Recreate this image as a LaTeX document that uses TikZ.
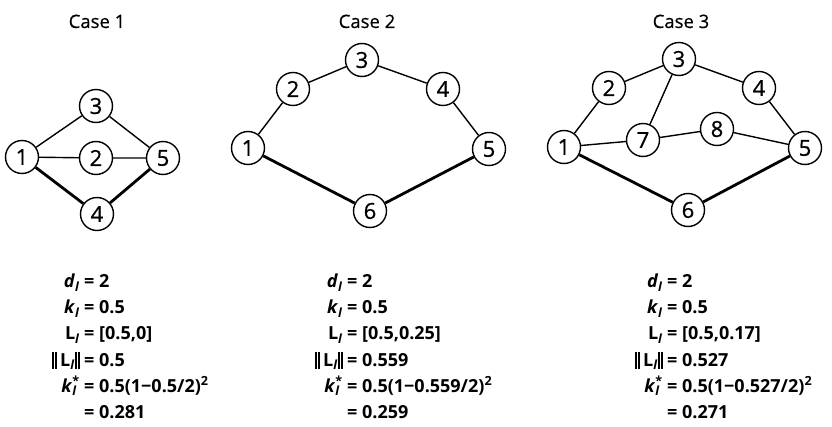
\documentclass[tikz,border=0pt]{standalone}
\usepackage{fontspec}
\setmainfont{Open Sans}
\newfontfamily\nodefont[FakeBold=0.8]{Open Sans}
\newfontfamily\titlefont[FakeBold=0.5]{Open Sans}
\newcommand{\dbar}{\rule[-2.5pt]{1.8pt}{16pt}\kern1.2pt\rule[-2.5pt]{1.8pt}{16pt}}
\newcommand{\lab}[1]{\textit{#1}\textsubscript{\textit{l}}}
\newcommand{\kstar}{\textit{k}\rlap{\textsubscript{\textit{l}}}\textsuperscript{*}}
\newcommand{\myrow}[5]{%
  \node[eqtxt,anchor=base east] (#1l) at (#2-4,#3) {#4};
  \node[eqtxt,anchor=base west] (#1r) at (#2,#3) {= #5};}
\begin{document}
\begin{tikzpicture}[x=1pt,y=-1pt,
  nd/.style={circle,draw,line width=1.4pt,minimum size=33pt,inner sep=0pt,font=\nodefont\fontsize{22}{22}\selectfont},
  edgethin/.style={line width=1.4pt},
  edgethick/.style={line width=2.8pt},
  ttl/.style={anchor=base,inner sep=0pt,font=\titlefont\fontsize{18.5}{18.5}\selectfont},
  eqtxt/.style={inner sep=0pt,font=\bfseries\fontsize{18}{20}\selectfont}]
\useasboundingbox (0,0) rectangle (832,427);
% titles
\node[ttl] (t1) at (97,28) {Case 1};
\node[ttl] (t2) at (367,28) {Case 2};
\node[ttl] (t3) at (681,28) {Case 3};
% case 1
\node[nd] (a1) at (22,157) {1};
\node[nd] (a2) at (96,158) {2};
\node[nd] (a3) at (96,106) {3};
\node[nd] (a4) at (97,214) {4};
\node[nd] (a5) at (163,158) {5};
\draw[edgethin] (a1) -- (a3) (a3) -- (a5) (a1) -- (a2) (a2) -- (a5);
\draw[edgethick] (a1) -- (a4) (a4) -- (a5);
% case 2
\node[nd] (b1) at (248,148) {1};
\node[nd] (b2) at (293,89) {2};
\node[nd] (b3) at (362,60) {3};
\node[nd] (b4) at (443,89) {4};
\node[nd] (b5) at (489,149) {5};
\node[nd] (b6) at (370,211) {6};
\draw[edgethin] (b1) -- (b2) (b2) -- (b3) (b3) -- (b4) (b4) -- (b5);
\draw[edgethick] (b1) -- (b6) (b6) -- (b5);
% case 3
\node[nd] (c1) at (564,147) {1};
\node[nd] (c2) at (609,88) {2};
\node[nd] (c3) at (679,59) {3};
\node[nd] (c4) at (759,88) {4};
\node[nd] (c5) at (805,148) {5};
\node[nd] (c6) at (688,210) {6};
\node[nd] (c7) at (643,140) {7};
\node[nd] (c8) at (717,129) {8};
\draw[edgethin] (c1) -- (c2) (c2) -- (c3) (c3) -- (c4) (c4) -- (c5)
  (c3) -- (c7) (c1) -- (c7) (c7) -- (c8) (c8) -- (c5);
\draw[edgethick] (c1) -- (c6) (c6) -- (c5);
% equations case 1
\myrow{pa}{84}{288}{\lab{d}}{2}
\myrow{qa}{84}{314}{\lab{k}}{0.5}
\myrow{ra}{84}{340}{L\textsubscript{\textit{l}}}{[0.5,0]}
\myrow{sa}{84}{366}{\dbar\,L\textsubscript{\textit{l}}\dbar}{0.5}
\myrow{ua}{84}{392}{\kstar}{0.5(1−0.5/2)\textsuperscript{2}}
\node[eqtxt,anchor=base west] (va) at (84,418) {= 0.281};
% equations case 2
\myrow{pb}{347}{288}{\lab{d}}{2}
\myrow{qb}{347}{314}{\lab{k}}{0.5}
\myrow{rb}{347}{340}{L\textsubscript{\textit{l}}}{[0.5,0.25]}
\myrow{sb}{347}{366}{\dbar\,L\textsubscript{\textit{l}}\dbar}{0.559}
\myrow{ub}{347}{392}{\kstar}{0.5(1−0.559/2)\textsuperscript{2}}
\node[eqtxt,anchor=base west] (vb) at (347,418) {= 0.259};
% equations case 3
\myrow{pc}{667}{288}{\lab{d}}{2}
\myrow{qc}{667}{314}{\lab{k}}{0.5}
\myrow{rc}{667}{340}{L\textsubscript{\textit{l}}}{[0.5,0.17]}
\myrow{sc}{667}{366}{\dbar\,L\textsubscript{\textit{l}}\dbar}{0.527}
\myrow{uc}{667}{392}{\kstar}{0.5(1−0.527/2)\textsuperscript{2}}
\node[eqtxt,anchor=base west] (vc) at (667,418) {= 0.271};
\end{tikzpicture}
\end{document}
